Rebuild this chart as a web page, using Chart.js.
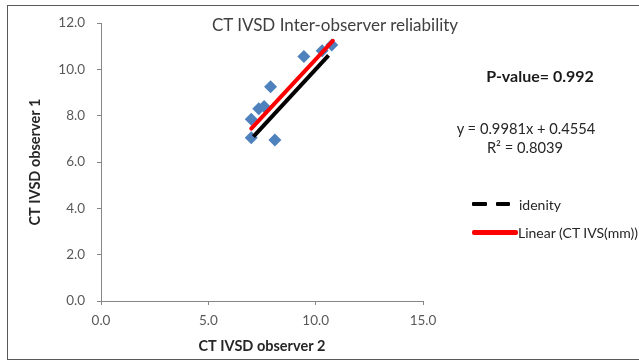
<!DOCTYPE html>
<html>
<head>
<meta charset="utf-8">
<script src="https://cdn.jsdelivr.net/npm/chart.js@4/dist/chart.umd.min.js"></script>
<style>
  body { margin: 0; overflow: hidden; background: #fff; }
  #wrap { position: relative; width: 639px; height: 364px; overflow: hidden; font-family: Lato, sans-serif; }
  #frame { position: absolute; left: 7px; top: 5px; width: 700px; height: 355px; border: 1.5px solid #595959; box-sizing: border-box; }
  canvas { position: absolute; left: 0; top: 0; }
  .txt { position: absolute; white-space: nowrap; transform: translate(-50%, -50%); }
  .lbl { position: absolute; white-space: nowrap; transform: translateY(-50%); font-size: 14px; color: #262626; }
  .seg { position: absolute; border-radius: 1px; }
</style>
</head>
<body>
<div id="wrap">
  <div id="frame"></div>
  <canvas id="chart" width="639" height="364"></canvas>
  <div class="txt" style="left:335px; top:24px; font-size:17px; color:#404040;">CT IVSD Inter-observer reliability</div>
  <div class="txt" style="left:540px; top:75px; font-size:16px; font-weight:bold; color:#1a1a1a;">P-value= 0.992</div>
  <div class="txt" style="left:526px; top:128px; font-size:14.7px; color:#262626;">y = 0.9981x + 0.4554</div>
  <div class="txt" style="left:525px; top:147px; font-size:14.7px; color:#262626;">R² = 0.8039</div>
  <div class="seg" style="left:472px; top:202px; width:15px; height:4px; background:#000;"></div>
  <div class="seg" style="left:496px; top:202px; width:14px; height:4px; background:#000;"></div>
  <div class="lbl" style="left:519px; top:204px;">idenity</div>
  <div class="seg" style="left:472px; top:230px; width:46px; height:5px; background:#f00; border-radius:2px;"></div>
  <div class="lbl" style="left:518px; top:232px;">Linear (CT IVS(mm))</div>
</div>
<script>
// observer 2 (x) and observer 1 (y) readings
const obs2 = [7.0, 7.0, 8.1, 7.9, 7.35, 7.6, 9.45, 10.3, 10.75];
const obs1 = [7.85, 7.05, 6.95, 9.25, 8.3, 8.4, 10.55, 10.8, 11.05];

// identity line ends
const identX = [7.1, 10.6];
const identY = [7.1, 10.6];

// linear trendline ends
const trendX = [7.0, 10.8];
const trendY = [7.44, 11.23];

const xTicks = [0, 5, 10, 15];
const yTicks = [0, 2, 4, 6, 8, 10, 12];

const toPts = (xs, ys) => xs.map((x, i) => ({ x: x, y: ys[i] }));

const axisGray = '#868686';
const tickFont = { family: 'Lato', size: 13.5 };
const titleFont = { family: 'Lato', size: 14.5, weight: 'bold' };

new Chart(document.getElementById('chart').getContext('2d'), {
    type: 'scatter',
    data: {
        datasets: [
            {
                label: 'CT IVS(mm)',
                data: toPts(obs2, obs1),
                pointStyle: 'rectRot',
                pointRadius: 6.5,
                pointHoverRadius: 6.5,
                backgroundColor: '#4F81BD',
                borderColor: '#4F81BD',
                borderWidth: 0,
                order: 3
            },
            {
                label: 'idenity',
                type: 'line',
                data: toPts(identX, identY),
                borderColor: '#000',
                borderWidth: 4,
                pointRadius: 0,
                order: 2
            },
            {
                label: 'Linear (CT IVS(mm))',
                type: 'line',
                data: toPts(trendX, trendY),
                borderColor: '#ff0000',
                borderWidth: 4,
                borderCapStyle: 'round',
                pointRadius: 0,
                order: 1
            }
        ]
    },
    options: {
        responsive: false,
        animation: false,
        layout: { padding: { left: 0, top: 23, right: 216, bottom: 0 } },
        plugins: {
            legend: { display: false },
            tooltip: { enabled: false }
        },
        scales: {
            x: {
                type: 'linear',
                min: 0,
                max: 15,
                afterFit: scale => { scale.height = 63; },
                afterBuildTicks: scale => { scale.ticks = xTicks.map(v => ({ value: v })); },
                ticks: {
                    callback: v => v.toFixed(1),
                    font: tickFont,
                    color: '#595959',
                    padding: 8
                },
                grid: { drawOnChartArea: false, tickLength: 4, color: axisGray },
                border: { color: axisGray, width: 1 },
                title: {
                    display: true,
                    text: 'CT IVSD observer 2',
                    font: titleFont,
                    color: '#262626',
                    padding: { top: 0, bottom: 9 }
                }
            },
            y: {
                type: 'linear',
                min: 0,
                max: 12,
                afterFit: scale => { scale.width = 101; },
                afterBuildTicks: scale => { scale.ticks = yTicks.map(v => ({ value: v })); },
                ticks: {
                    callback: v => v.toFixed(1),
                    font: tickFont,
                    color: '#595959',
                    padding: 12
                },
                grid: { drawOnChartArea: false, tickLength: 4, color: axisGray },
                border: { color: axisGray, width: 1 },
                title: {
                    display: true,
                    text: 'CT IVSD observer 1',
                    font: titleFont,
                    color: '#262626',
                    padding: { top: 27, bottom: 0 }
                }
            }
        }
    }
});
</script>
</body>
</html>
